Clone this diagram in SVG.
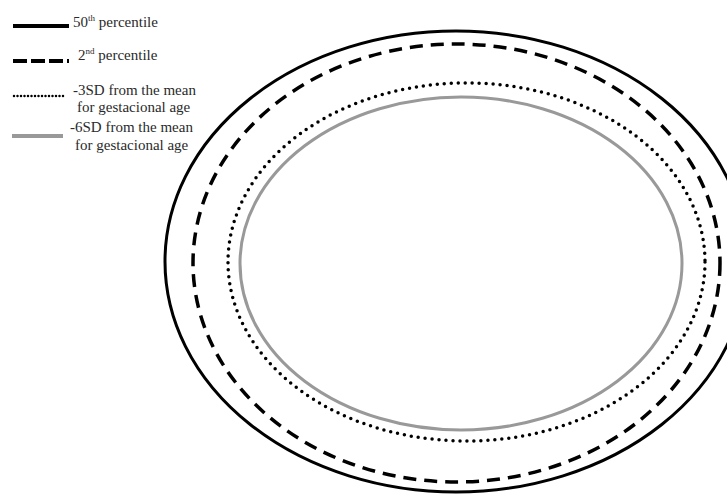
<svg xmlns="http://www.w3.org/2000/svg" width="727" height="495" viewBox="0 0 727 495">
<style>
text{font-family:"Liberation Serif","Times New Roman",serif;font-size:15px;fill:#2a2a2a}
.sup{font-size:9px}
.solid{fill:none;stroke:#000;stroke-width:3}
.dash{fill:none;stroke:#000;stroke-width:3.5;stroke-dasharray:13 8}
.dot{fill:none;stroke:#000;stroke-width:3.5;stroke-dasharray:0 7;stroke-linecap:round}
.gray{fill:none;stroke:#999;stroke-width:3}
</style>
<rect width="727" height="495" fill="#fff"/>
<g id="curves">
<ellipse id="p50" class="solid" cx="456" cy="261.5" rx="291" ry="230.5"/>
<ellipse id="p2" class="dash" cx="456.5" cy="263" rx="263.5" ry="219"/>
<ellipse id="sd3" class="dot" cx="466.5" cy="262" rx="238.5" ry="179"/>
<ellipse id="sd6" class="gray" cx="461" cy="263.5" rx="221" ry="166.5"/>
</g>
<g id="legend">
<g id="leg1">
<line x1="13" y1="26" x2="69" y2="26" stroke="#000" stroke-width="4"/>
<text x="73" y="27">50<tspan class="sup" dy="-6">th</tspan><tspan dy="6"> percentile</tspan></text>
</g>
<g id="leg2">
<line x1="13" y1="61" x2="69" y2="61" stroke="#000" stroke-width="4" stroke-dasharray="14 4"/>
<text x="78" y="60">2<tspan class="sup" dy="-6">nd</tspan><tspan dy="6"> percentile</tspan></text>
</g>
<g id="leg3">
<line x1="14" y1="96" x2="64" y2="96" stroke="#000" stroke-width="2.5" stroke-dasharray="0 3.5" stroke-linecap="round"/>
<text x="73" y="95">-3SD from the mean</text>
<text x="77" y="112">for gestacional age</text>
</g>
<g id="leg4">
<line x1="12" y1="136" x2="63" y2="136" stroke="#999" stroke-width="4"/>
<text x="70" y="132">-6SD from the mean</text>
<text x="75" y="150">for gestacional age</text>
</g>
</g>
</svg>
